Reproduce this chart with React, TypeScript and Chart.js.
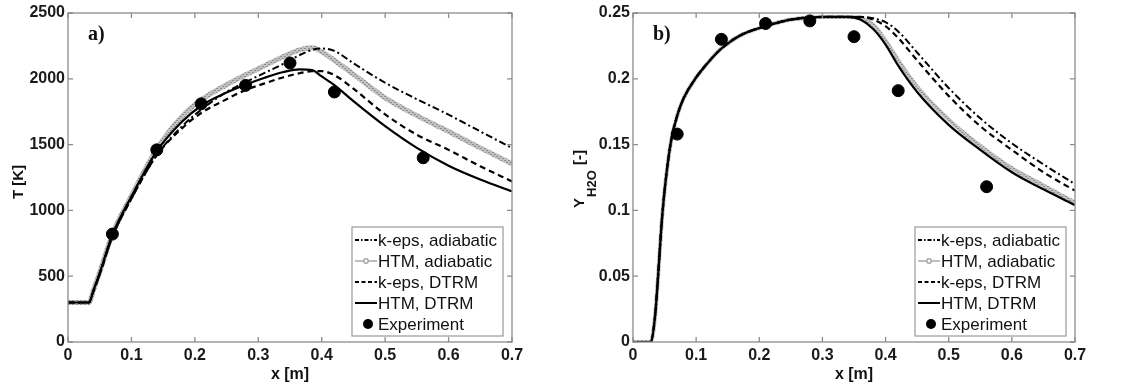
import React, { useEffect, useRef } from "react";
import { Chart, registerables } from "chart.js";

Chart.register(...registerables);

// ---------- Data: panel a) temperature ----------
const xT = [0, 0.033, 0.04, 0.05, 0.07, 0.1, 0.14, 0.18, 0.21, 0.25, 0.28, 0.31, 0.34, 0.365, 0.385, 0.4, 0.42, 0.45, 0.5, 0.55, 0.6, 0.65, 0.7];
const T_kepsAdiabatic = [300, 300, 385, 515, 800, 1090, 1420, 1640, 1765, 1900, 1975, 2045, 2115, 2180, 2220, 2230, 2212, 2118, 1970, 1845, 1727, 1600, 1474];
const T_htmAdiabatic = [300, 300, 392, 530, 820, 1110, 1465, 1715, 1840, 1955, 2030, 2100, 2170, 2220, 2235, 2205, 2140, 2035, 1855, 1720, 1600, 1475, 1355];
const T_kepsDtrm = [300, 300, 385, 515, 800, 1090, 1420, 1625, 1740, 1845, 1915, 1965, 2012, 2042, 2058, 2058, 2028, 1925, 1730, 1575, 1460, 1335, 1220];
const T_htmDtrm = [300, 300, 390, 525, 815, 1105, 1450, 1675, 1795, 1895, 1955, 2008, 2052, 2072, 2066, 2018, 1952, 1830, 1640, 1475, 1340, 1235, 1145];

// ---------- Data: panel b) H2O mass fraction ----------
const xY = [0, 0.028, 0.035, 0.04, 0.045, 0.05, 0.06, 0.07, 0.08, 0.1, 0.12, 0.14, 0.17, 0.21, 0.25, 0.3, 0.34, 0.36, 0.38, 0.4, 0.42, 0.45, 0.5, 0.55, 0.6, 0.65, 0.7];
const Y_kepsAdiabatic = [0, 0, 0.02, 0.052, 0.088, 0.115, 0.152, 0.172, 0.185, 0.201, 0.213, 0.223, 0.233, 0.24, 0.245, 0.247, 0.247, 0.247, 0.246, 0.243, 0.236, 0.22, 0.193, 0.17, 0.151, 0.135, 0.12];
const Y_htmAdiabatic = [0, 0, 0.02, 0.052, 0.088, 0.115, 0.152, 0.172, 0.185, 0.201, 0.213, 0.223, 0.233, 0.24, 0.245, 0.247, 0.247, 0.246, 0.241, 0.229, 0.214, 0.194, 0.169, 0.149, 0.132, 0.119, 0.106];
const Y_kepsDtrm = [0, 0, 0.02, 0.052, 0.088, 0.115, 0.152, 0.172, 0.185, 0.201, 0.213, 0.223, 0.233, 0.24, 0.245, 0.247, 0.247, 0.247, 0.245, 0.24, 0.231, 0.214, 0.187, 0.164, 0.146, 0.129, 0.115];
const Y_htmDtrm = [0, 0, 0.02, 0.052, 0.088, 0.115, 0.152, 0.172, 0.185, 0.201, 0.213, 0.223, 0.233, 0.24, 0.245, 0.247, 0.247, 0.245, 0.238, 0.226, 0.21, 0.19, 0.165, 0.146, 0.129, 0.116, 0.104];

// ---------- Experiment ----------
const expX = [0.07, 0.14, 0.21, 0.28, 0.35, 0.42, 0.56];
const expT = [820, 1460, 1810, 1950, 2120, 1900, 1400];
const expY = [0.158, 0.23, 0.242, 0.244, 0.232, 0.191, 0.118];

// ---------- Labels ----------
const seriesNames = ["k-eps, adiabatic", "HTM, adiabatic", "k-eps, DTRM", "HTM, DTRM", "Experiment"];
const xTicks = [0, 0.1, 0.2, 0.3, 0.4, 0.5, 0.6, 0.7];
const tTicks = [0, 500, 1000, 1500, 2000, 2500];
const yTicks = [0, 0.05, 0.1, 0.15, 0.2, 0.25];

const SANS = '"Liberation Sans", Arial, Helvetica, sans-serif';
const SERIF = '"Liberation Serif", "Times New Roman", serif';
const GRAY = "#a9a9a9";
const DASHDOT = [7, 3, 2, 3];
const DASH = [6, 4];

const pts = (xs: number[], ys: number[]) => xs.map((x, i) => ({ x, y: ys[i] }));

function fmt(v: number) {
  return String(parseFloat(Number(v).toFixed(2)));
}

function grayPattern(): any {
  const c = document.createElement("canvas");
  c.width = 4;
  c.height = 4;
  const g = c.getContext("2d")!;
  g.fillStyle = "#c2c2c2";
  g.fillRect(0, 0, 4, 4);
  g.fillStyle = "#8e8e8e";
  g.fillRect(0, 0, 2, 1);
  g.fillRect(2, 2, 2, 1);
  return g.createPattern(c, "repeat") || GRAY;
}

function makePlugin(p: { panel: string; yTitle: "T" | "Y" }) {
  return {
    id: "decor",
    afterDraw(chart: any) {
      const { ctx, chartArea: a, scales } = chart;
      ctx.save();
      // frame
      ctx.strokeStyle = "#8c8c8c";
      ctx.lineWidth = 1.3;
      ctx.setLineDash([]);
      ctx.strokeRect(a.left, a.top, a.right - a.left, a.bottom - a.top);
      // inward ticks on all four sides
      const tl = 5;
      ctx.beginPath();
      scales.x.ticks.forEach((t: any) => {
        const px = scales.x.getPixelForValue(t.value);
        ctx.moveTo(px, a.bottom);
        ctx.lineTo(px, a.bottom - tl);
        ctx.moveTo(px, a.top);
        ctx.lineTo(px, a.top + tl);
      });
      scales.y.ticks.forEach((t: any) => {
        const py = scales.y.getPixelForValue(t.value);
        ctx.moveTo(a.left, py);
        ctx.lineTo(a.left + tl, py);
        ctx.moveTo(a.right, py);
        ctx.lineTo(a.right - tl, py);
      });
      ctx.stroke();

      // panel label
      ctx.fillStyle = "#111";
      ctx.font = `bold 20px ${SERIF}`;
      ctx.textAlign = "left";
      ctx.textBaseline = "middle";
      ctx.fillText(p.panel, a.left + 20, a.top + 22);

      // x title
      ctx.font = `bold 16px ${SANS}`;
      ctx.textAlign = "center";
      ctx.textBaseline = "middle";
      ctx.fillText("x [m]", (a.left + a.right) / 2, 375);

      // y title (rotated; local y == screen x)
      ctx.save();
      ctx.textBaseline = "alphabetic";
      if (p.yTitle === "T") {
        ctx.translate(0, 182);
        ctx.rotate(-Math.PI / 2);
        ctx.font = `bold 15px ${SANS}`;
        ctx.textAlign = "center";
        ctx.fillText("T [K]", 0, 22.5);
      } else {
        ctx.translate(0, 179);
        ctx.rotate(-Math.PI / 2);
        const f1 = `bold 15px ${SANS}`;
        const f2 = `bold 13px ${SANS}`;
        ctx.font = f1;
        const w1 = ctx.measureText("Y").width + 1;
        const w3 = ctx.measureText(" [-]").width;
        ctx.font = f2;
        const w2 = ctx.measureText("H2O").width + 1;
        const x0 = -(w1 + w2 + w3) / 2;
        ctx.textAlign = "left";
        ctx.font = f1;
        ctx.fillText("Y", x0, 18.5);
        ctx.font = f2;
        ctx.fillText("H2O", x0 + w1, 31);
        ctx.font = f1;
        ctx.fillText(" [-]", x0 + w1 + w2, 18.5);
      }
      ctx.restore();

      // legend
      const bw = 151;
      const bh = 109;
      const bx = a.right - 9 - bw;
      const by = a.bottom - 6 - bh;
      ctx.fillStyle = "#fff";
      ctx.fillRect(bx, by, bw, bh);
      ctx.strokeStyle = "#999";
      ctx.lineWidth = 1.2;
      ctx.strokeRect(bx, by, bw, bh);
      ctx.font = `17px ${SANS}`;
      ctx.textAlign = "left";
      ctx.textBaseline = "middle";
      seriesNames.forEach((name, i) => {
        const ly = by + 13 + i * 21;
        const lx0 = bx + 3;
        const lx1 = bx + 25;
        ctx.save();
        if (i === 4) {
          ctx.fillStyle = "#000";
          ctx.beginPath();
          ctx.arc((lx0 + lx1) / 2 + 2, ly, 5, 0, Math.PI * 2);
          ctx.fill();
        } else {
          ctx.beginPath();
          ctx.moveTo(lx0, ly);
          ctx.lineTo(lx1, ly);
          if (i === 0) {
            ctx.strokeStyle = "#000";
            ctx.lineWidth = 2;
            ctx.setLineDash([4, 2, 1.5, 2]);
          } else if (i === 1) {
            ctx.strokeStyle = GRAY;
            ctx.lineWidth = 1.5;
          } else if (i === 2) {
            ctx.strokeStyle = "#000";
            ctx.lineWidth = 2;
            ctx.setLineDash([4, 2.5]);
          } else {
            ctx.strokeStyle = "#000";
            ctx.lineWidth = 2;
          }
          ctx.stroke();
          if (i === 1) {
            ctx.setLineDash([]);
            ctx.fillStyle = "#fff";
            ctx.beginPath();
            ctx.arc((lx0 + lx1) / 2, ly, 2.2, 0, Math.PI * 2);
            ctx.fill();
            ctx.stroke();
          }
        }
        ctx.restore();
        ctx.fillStyle = "#111";
        ctx.fillText(name, bx + 26, ly + 1);
      });
      ctx.restore();
    },
  };
}

function makeChart(
  canvas: HTMLCanvasElement,
  cfg: {
    xs: number[];
    ka: number[];
    ha: number[];
    kd: number[];
    hd: number[];
    ex: number[];
    ey: number[];
    yMax: number;
    yTickVals: number[];
    panel: string;
    yTitle: "T" | "Y";
    padRight: number;
    grayWidth: number;
  }
) {
  const lineCommon = {
    showLine: true,
    pointRadius: 0,
    pointHoverRadius: 0,
    fill: false,
    cubicInterpolationMode: "monotone" as const,
  };
  return new Chart(canvas, {
    type: "scatter",
    data: {
      datasets: [
        { ...lineCommon, label: seriesNames[4], data: pts(cfg.ex, cfg.ey), showLine: false, pointRadius: 6, pointBackgroundColor: "#000", pointBorderColor: "#000", backgroundColor: "#000", order: 0 },
        { ...lineCommon, label: seriesNames[3], data: pts(cfg.xs, cfg.hd), borderColor: "#000", borderWidth: 2.2, order: 1 },
        { ...lineCommon, label: seriesNames[2], data: pts(cfg.xs, cfg.kd), borderColor: "#000", borderWidth: 2.2, borderDash: DASH, order: 2 },
        { ...lineCommon, label: seriesNames[0], data: pts(cfg.xs, cfg.ka), borderColor: "#000", borderWidth: 2, borderDash: DASHDOT, order: 3 },
        { ...lineCommon, label: seriesNames[1], data: pts(cfg.xs, cfg.ha), borderColor: grayPattern(), borderWidth: cfg.grayWidth, order: 4 },
      ],
    },
    options: {
      responsive: false,
      animation: false,
      devicePixelRatio: 1,
      layout: { padding: { top: 13, right: cfg.padRight, left: 0, bottom: 0 } },
      plugins: { legend: { display: false }, tooltip: { enabled: false } },
      events: [],
      scales: {
        x: {
          type: "linear",
          min: 0,
          max: 0.7,
          afterFit: (s: any) => {
            s.height = 42;
          },
          afterBuildTicks: (s: any) => {
            s.ticks = xTicks.map((v) => ({ value: v }));
          },
          grid: { display: false, drawTicks: false },
          border: { display: false },
          ticks: {
            autoSkip: false,
            maxRotation: 0,
            padding: 4,
            color: "#1a1a1a",
            font: { family: SANS, size: 16, weight: "bold" },
            callback: (v: any) => fmt(v),
          },
        },
        y: {
          type: "linear",
          min: 0,
          max: cfg.yMax,
          afterFit: (s: any) => {
            s.width = 68;
          },
          afterBuildTicks: (s: any) => {
            s.ticks = cfg.yTickVals.map((v) => ({ value: v }));
          },
          grid: { display: false, drawTicks: false },
          border: { display: false },
          ticks: {
            autoSkip: false,
            padding: 3,
            color: "#1a1a1a",
            font: { family: SANS, size: 16, weight: "bold" },
            callback: (v: any) => fmt(v),
          },
        },
      },
    },
    plugins: [makePlugin({ panel: cfg.panel, yTitle: cfg.yTitle })],
  } as any);
}

export default function App() {
  const leftRef = useRef<HTMLCanvasElement>(null);
  const rightRef = useRef<HTMLCanvasElement>(null);

  useEffect(() => {
    const c1 = makeChart(leftRef.current!, {
      xs: xT,
      ka: T_kepsAdiabatic,
      ha: T_htmAdiabatic,
      kd: T_kepsDtrm,
      hd: T_htmDtrm,
      ex: expX,
      ey: expT,
      yMax: 2500,
      yTickVals: tTicks,
      panel: "a)",
      yTitle: "T",
      padRight: 53,
      grayWidth: 5,
    });
    const c2 = makeChart(rightRef.current!, {
      xs: xY,
      ka: Y_kepsAdiabatic,
      ha: Y_htmAdiabatic,
      kd: Y_kepsDtrm,
      hd: Y_htmDtrm,
      ex: expX,
      ey: expY,
      yMax: 0.25,
      yTickVals: yTicks,
      panel: "b)",
      yTitle: "Y",
      padRight: 55,
      grayWidth: 4,
    });
    return () => {
      c1.destroy();
      c2.destroy();
    };
  }, []);

  return (
    <div style={{ position: "fixed", left: 0, top: 0, width: 1130, height: 384, background: "#fff", display: "flex" }}>
      <canvas ref={leftRef} width={565} height={384} style={{ width: 565, height: 384, display: "block" }} />
      <canvas ref={rightRef} width={565} height={384} style={{ width: 565, height: 384, display: "block" }} />
    </div>
  );
}
